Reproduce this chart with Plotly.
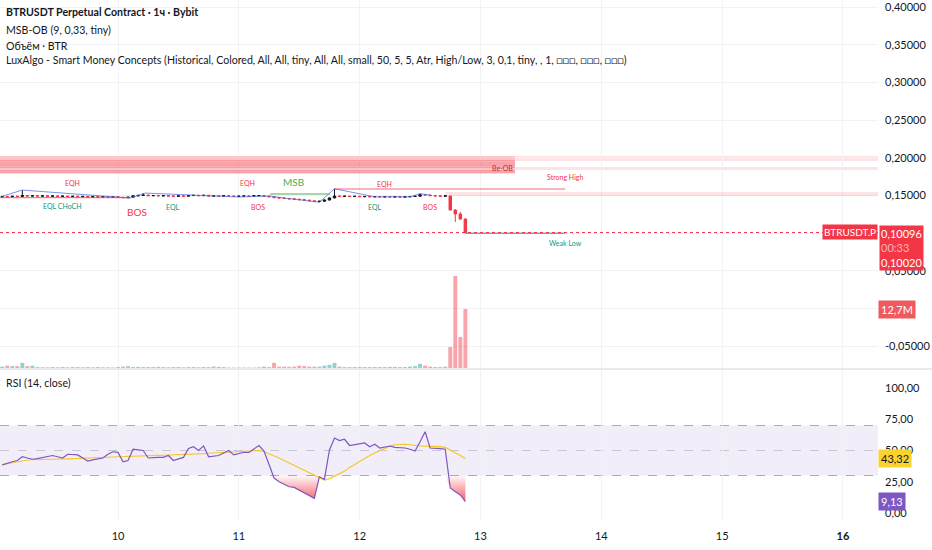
import plotly.graph_objects as go
import pandas as pd

# ---------------- data ----------------
START = pd.Timestamp("2025-06-09 00:00")
hours = list(range(1, 94))

opens = [.1482,.1487,.1483,.1490,.1487,.1500,.1493,.1497,.1492,.1495,
         .1490,.1494,.1488,.1492,.1486,.1490,.1484,.1488,.1481,.1486,
         .1480,.1485,.1479,.1484,.1476,.1472,.1478,.1495,.1501,.1505,
         .1497,.1500,.1495,.1498,.1493,.1489,.1494,.1491,.1499,.1502,
         .1497,.1503,.1492,.1495,.1491,.1496,.1493,.1488,.1491,.1494,
         .1490,.1496,.1499,.1491,.1483,.1472,.1466,.1460,.1455,.1450,
         .1444,.1438,.1430,.1420,.1424,.1440,.1468,.1492,.1488,.1491,
         .1486,.1489,.1484,.1487,.1482,.1486,.1481,.1485,.1480,.1484,
         .1479,.1483,.1487,.1491,.1510,.1506,.1498,.1494,.1491,.1493,
         .1308,.1255,.1188]
highs = [.1490,.1494,.1492,.1498,.1572,.1506,.1500,.1503,.1499,.1501,
         .1497,.1499,.1495,.1498,.1493,.1496,.1491,.1494,.1489,.1492,
         .1488,.1491,.1487,.1489,.1483,.1481,.1500,.1510,.1532,.1510,
         .1504,.1506,.1502,.1504,.1500,.1497,.1500,.1503,.1506,.1507,
         .1508,.1506,.1499,.1501,.1499,.1502,.1499,.1495,.1498,.1500,
         .1499,.1504,.1503,.1496,.1488,.1478,.1472,.1466,.1461,.1456,
         .1450,.1444,.1436,.1428,.1444,.1472,.1590,.1500,.1496,.1497,
         .1494,.1495,.1492,.1493,.1490,.1492,.1489,.1491,.1488,.1490,
         .1487,.1490,.1495,.1525,.1516,.1510,.1503,.1500,.1499,.1497,
         .1315,.1281,.1195]
lows = [.1476,.1480,.1478,.1485,.1484,.1490,.1486,.1489,.1485,.1487,
        .1483,.1485,.1481,.1484,.1479,.1482,.1477,.1479,.1475,.1478,
        .1474,.1477,.1472,.1474,.1468,.1463,.1474,.1489,.1495,.1494,
        .1490,.1492,.1488,.1490,.1486,.1483,.1487,.1487,.1493,.1494,
        .1492,.1490,.1486,.1488,.1486,.1489,.1485,.1478,.1485,.1487,
        .1485,.1490,.1488,.1480,.1468,.1462,.1456,.1450,.1446,.1440,
        .1434,.1426,.1414,.1410,.1420,.1436,.1462,.1484,.1481,.1483,
        .1479,.1481,.1477,.1479,.1476,.1478,.1475,.1477,.1474,.1476,
        .1473,.1476,.1480,.1488,.1500,.1494,.1490,.1487,.1486,.1300,
        .1149,.1180,.1000]
closes = [.1487,.1483,.1490,.1487,.1500,.1493,.1497,.1492,.1495,.1490,
          .1494,.1488,.1492,.1486,.1490,.1484,.1488,.1481,.1486,.1480,
          .1485,.1479,.1484,.1476,.1472,.1478,.1495,.1501,.1505,.1497,
          .1500,.1495,.1498,.1493,.1489,.1494,.1491,.1499,.1502,.1497,
          .1503,.1492,.1495,.1491,.1496,.1493,.1488,.1491,.1494,.1490,
          .1496,.1499,.1491,.1483,.1472,.1466,.1460,.1455,.1450,.1444,
          .1438,.1430,.1420,.1424,.1440,.1468,.1492,.1488,.1491,.1486,
          .1489,.1484,.1487,.1482,.1486,.1481,.1485,.1480,.1484,.1479,
          .1483,.1487,.1491,.1510,.1506,.1498,.1494,.1491,.1495,.1308,
          .1255,.1188,.10096]

volumes_m = [0.3,0.5,0.4,0.4,1.1,0.4,0.5,0.2,0.15,0.15,
             0.2,0.15,0.2,0.15,0.2,0.2,0.15,0.2,0.15,0.2,
             0.15,0.15,0.1,0.2,0.3,0.4,0.2,0.25,0.2,0.2,
             0.2,0.25,0.2,0.15,0.2,0.2,0.15,0.2,0.2,0.15,
             0.2,0.2,0.3,0.25,0.2,0.1,0.1,0.1,0.1,0.1,
             0.1,0.15,0.3,0.2,1.1,0.3,0.3,0.25,0.3,0.5,
             0.4,0.3,0.3,0.3,0.5,0.7,1.1,0.3,0.2,0.2,
             0.2,0.2,0.2,0.2,0.2,0.2,0.2,0.25,0.25,0.2,
             0.2,0.3,0.4,0.9,0.5,0.3,0.2,0.2,0.3,4.5,
             19.8,6.7,12.7]

rsi = [38.5,40,41,42,45,44,43,43.5,44.5,45.5,
       46,45,44,47,46.5,46.5,44,41.6,42.5,43,
       44,47,49,48.5,41,42,51,50.5,50,44,
       44.5,44.5,44.5,46,42,43,44.5,51.6,53,50,
       53.7,45,45.5,46,48,50,46.5,47.5,48.6,48.5,
       51,54,49.5,39.5,28,25,23,21,20.5,18.4,
       16.5,14,11.7,29,27,50.4,60,58,59,54,
       54.5,55.5,56,53,55,52,53,53.6,52.5,52.5,
       52,51,49.6,57,65,52,52,51.5,51,20,
       17,14.4,9.13]

rsi_ma = [38.6,39.4,40.2,41,41.8,42.4,42.6,42.8,42.9,43,
          43,43.1,43.2,43.3,43.4,43.6,43.8,43.9,44,44.2,
          44.4,44.6,44.8,45,45.2,45.4,45.6,45.7,45.8,45.9,
          46,46.1,46.2,46.3,46.4,46.5,46.6,46.8,47,47.2,
          47.5,47.8,48.1,48.4,48.6,48.8,49,49.2,49.4,49.6,
          49.8,49.9,49,47.5,46,44,42,40,38,36,
          34,32,29.8,28,26.4,27.5,29.5,31.5,33.5,36.5,
          39,41.5,44,46,48,50,52,53.5,54.6,55,
          55,54.6,54,53.6,53.5,53.5,53.3,53.1,52.5,50.5,
          48.5,46,43.32]

# zigzag (MSB-OB)
zz_hours = [1, 5, 26.4, 29.4, 48, 54, 64, 67, 75, 82, 84, 86]
zz_prices = [.1490, .1572, .1466, .1532, .1480, .1493, .1410, .1590, .1482, .1482, .1525, .1505]

# structure levels
level_names = ["eql", "msb", "strong_high", "weak_low"]
level_h0 = [0.56, 54.2, 66.9, 93]
level_h1 = [26.4, 66.1, 112.8, 112.8]
level_price = [.1471, .1520, .1586, .1000]
level_color = ["rgba(242,54,69,0.8)", "#4caf50", "rgba(242,54,69,0.75)", "#089981"]

# labels
lab_text = ["EQH", "EQL CHoCH", "BOS", "EQL", "EQH", "BOS", "MSB", "EQH", "EQL", "BOS",
            "Strong High", "Weak Low", "Be-OB"]
lab_h = [14.9, 12.9, 27.8, 34.9, 49.8, 51.8, 58.8, 77.0, 75.0, 86.0, 112.8, 112.8, 100.4]
lab_p = [.1666, .1361, .1281, .1347, .1666, .1347, .1679, .1653, .1347, .1347, .1745, .0870, .1865]
lab_color = ["#f23645", "#089981", "#f23645", "#089981", "#f23645", "#f23645", "#4caf50",
             "#f23645", "#089981", "#f23645", "#f23645", "#089981", "#c2263a"]
lab_size = [7, 7, 10, 7, 7, 7, 10, 7, 7, 7, 7, 7, 7]

price_ticks = [-0.05, 0.0, 0.05, 0.10, 0.15, 0.20, 0.25, 0.30, 0.35, 0.40]
price_hidden = [0.0, 0.10]   # covered by the value boxes in the original
rsi_ticks = [0, 25, 50, 75, 100]
day_ticks = [10, 11, 12, 13, 14, 15, 16]

last_price = 0.10096
rsi_last = 9.13
ma_last = 43.32
vol_last = 12.7

# ---------------- helpers ----------------
def t(h):
    return START + pd.Timedelta(hours=h)

times = [t(h) for h in hours]
x_range = [t(0.5616), t(174.96)]

FONT = "Lato, 'Noto Sans', sans-serif"
TXT = "#131722"
RED = "#f23645"

fig = go.Figure()

vol_colors = ["rgba(38,166,154,0.5)" if c >= o else "rgba(242,54,69,0.45)" for o, c in zip(opens, closes)]
fig.add_trace(go.Bar(x=times, y=volumes_m, marker=dict(color=vol_colors, line=dict(width=0)),
                     width=3600000 * 0.78, xaxis="x", yaxis="y3", hoverinfo="skip", showlegend=False))

fig.add_trace(go.Candlestick(x=times, open=opens, high=highs, low=lows, close=closes,
                             increasing=dict(line=dict(color="#131722", width=1), fillcolor="#131722"),
                             decreasing=dict(line=dict(color=RED, width=1), fillcolor=RED),
                             whiskerwidth=0, xaxis="x", yaxis="y", showlegend=False))

fig.add_trace(go.Scatter(x=[t(h) for h in zz_hours], y=zz_prices, mode="lines",
                         line=dict(color="rgba(80,110,225,0.75)", width=1),
                         xaxis="x", yaxis="y", showlegend=False, hoverinfo="skip"))

for h0, h1, p, col in zip(level_h0, level_h1, level_price, level_color):
    fig.add_trace(go.Scatter(x=[t(h0), t(h1)], y=[p, p], mode="lines",
                             line=dict(color=col, width=1), xaxis="x", yaxis="y",
                             showlegend=False, hoverinfo="skip"))

fig.add_trace(go.Scatter(x=times, y=[30] * len(times), mode="lines", line=dict(width=0),
                         xaxis="x2", yaxis="y2", showlegend=False, hoverinfo="skip"))
fig.add_trace(go.Scatter(x=times, y=[min(r, 30) for r in rsi], mode="lines", line=dict(width=0),
                         fill="tonexty",
                         fillgradient=dict(type="vertical",
                                           colorscale=[[0, "rgba(242,54,69,0.85)"], [1, "rgba(242,54,69,0.03)"]],
                                           start=8, stop=30),
                         xaxis="x2", yaxis="y2", showlegend=False, hoverinfo="skip"))
fig.add_trace(go.Scatter(x=times, y=rsi_ma, mode="lines", line=dict(color="#f5c82c", width=1.2),
                         xaxis="x2", yaxis="y2", showlegend=False, hoverinfo="skip"))
fig.add_trace(go.Scatter(x=times, y=rsi, mode="lines", line=dict(color="#7e57c2", width=1.2),
                         xaxis="x2", yaxis="y2", showlegend=False, hoverinfo="skip"))

# ---------------- shapes ----------------
shapes = []
def band(x0, x1, y0, y1, color, xref="x"):
    shapes.append(dict(type="rect", xref=xref, yref="y", x0=x0, x1=x1, y0=y0, y1=y1,
                       fillcolor=color, line=dict(width=0), layer="between"))

band(0, 1, .1958, .2024, "rgba(242,54,69,0.14)", xref="paper")
band(0, 1, .1838, .1878, "rgba(242,54,69,0.14)", xref="paper")
band(t(89), x_range[1], .1493, .1546, "rgba(242,54,69,0.14)")
band(x_range[0], t(102.85), .1785, .2024, "rgba(242,54,69,0.18)")
band(x_range[0], t(102.85), .1892, .1945, "rgba(242,54,69,0.35)")
band(x_range[0], t(102.85), .1799, .1838, "rgba(242,54,69,0.35)")
for lv in [.1958, .1878]:
    shapes.append(dict(type="line", xref="x", yref="y", x0=x_range[0], x1=t(102.85), y0=lv, y1=lv,
                       line=dict(color="rgba(242,54,69,0.55)", width=1), layer="between"))

shapes.append(dict(type="line", xref="paper", yref="y", x0=0, x1=1, y0=last_price, y1=last_price,
                   line=dict(color=RED, width=1, dash="dot")))

shapes.append(dict(type="rect", xref="paper", yref="y2", x0=0, x1=1, y0=30, y1=70,
                   fillcolor="rgba(126,87,194,0.1)", line=dict(width=0), layer="between"))
for lv in [70, 50, 30]:
    shapes.append(dict(type="line", xref="paper", yref="y2", x0=0, x1=1, y0=lv, y1=lv,
                       line=dict(color="rgba(120,123,134,0.6)" if lv != 50 else "rgba(120,123,134,0.35)",
                                 width=1, dash="dash"), layer="between"))

shapes.append(dict(type="line", xref="paper", yref="paper", x0=0, x1=932 / 878,
                   y0=1 - 369 / 520, y1=1 - 369 / 520, line=dict(color="#d1d4dc", width=1)))

# ---------------- annotations ----------------
ann = []
for txt, h, p, col, sz in zip(lab_text, lab_h, lab_p, lab_color, lab_size):
    ann.append(dict(x=t(h), y=p, xref="x", yref="y", text=txt, showarrow=False,
                    font=dict(family=FONT, size=sz, color=col)))

legend_lines = [
    ("<b>BTRUSDT Perpetual Contract · 1ч · Bybit</b>", 12),
    ("MSB-OB (9, 0,33, tiny)", 30),
    ("Объём · BTR", 46),
    ("LuxAlgo - Smart Money Concepts (Historical, Colored, All, All, tiny, All, All, small, 50, 5, 5, Atr, "
     "High/Low, 3, 0,1, tiny, , 1, □□□, □□□, □□□)", 60),
    ("RSI (14, close)", 383),
]
for txt, ypx in legend_lines:
    ann.append(dict(x=0, y=1 - ypx / 520, xref="paper", yref="paper", xanchor="left", yanchor="middle",
                    xshift=4, text=txt, showarrow=False, font=dict(family=FONT, size=10.6, color=TXT)))

ann.append(dict(x=1, y=last_price, xref="paper", yref="y", xanchor="right", yanchor="middle",
                text="BTRUSDT.P", showarrow=False, bgcolor=RED, borderpad=1,
                font=dict(family=FONT, size=10, color="white")))
ann.append(dict(x=1, y=last_price, xref="paper", yref="y", xanchor="left", yanchor="top", xshift=1, yshift=7,
                text="0,10096<br><span style='color:#f9b3b9'>00:33</span><br>0,10020",
                showarrow=False, bgcolor=RED, borderpad=1, align="left",
                font=dict(family=FONT, size=11, color="white")))
ann.append(dict(x=1, y=vol_last, xref="paper", yref="y3", xanchor="left", yanchor="middle",
                text="12,7M", showarrow=False, bgcolor="#f05a5f", borderpad=2,
                font=dict(family=FONT, size=11, color="white")))
ann.append(dict(x=1, y=ma_last, xref="paper", yref="y2", xanchor="left", yanchor="middle",
                text="43,32", showarrow=False, bgcolor="#fbd32e", borderpad=2,
                font=dict(family=FONT, size=11, color=TXT)))
ann.append(dict(x=1, y=rsi_last, xref="paper", yref="y2", xanchor="left", yanchor="middle",
                text="9,13", showarrow=False, bgcolor="#7e57c2", borderpad=2,
                font=dict(family=FONT, size=11, color="white")))

# ---------------- layout ----------------
day_vals = [START + pd.Timedelta(days=d - 9) for d in day_ticks]
day_text = [str(d) if d != 16 else "<b>16</b>" for d in day_ticks]
grid = "#f0f2f6"
price_text = ["" if v in price_hidden else f"{v:.5f}".replace(".", ",") for v in price_ticks]

fig.update_layout(
    width=932, height=550,
    margin=dict(l=0, r=54, t=0, b=30),
    paper_bgcolor="white", plot_bgcolor="white",
    showlegend=False,
    font=dict(family=FONT, size=11, color=TXT),
    xaxis=dict(type="date", range=x_range, domain=[0, 1], anchor="y", showticklabels=False,
               tickvals=day_vals, showgrid=True, gridcolor=grid, zeroline=False,
               rangeslider=dict(visible=False), fixedrange=True),
    xaxis2=dict(type="date", range=x_range, domain=[0, 1], anchor="y2", tickvals=day_vals,
                ticktext=day_text, showgrid=True, gridcolor=grid, zeroline=False,
                tickfont=dict(family=FONT, size=11, color=TXT), ticks="", showline=False,
                ticklabelstandoff=8),
    yaxis=dict(domain=[1 - 368 / 520, 1], range=[-0.07879, 0.40928], side="right",
               tickvals=price_ticks, ticktext=price_text,
               showgrid=True, gridcolor=grid, zeroline=False, ticks="", ticklabelstandoff=6,
               ticklabeloverflow="allow",
               tickfont=dict(family=FONT, size=11, color=TXT)),
    yaxis2=dict(domain=[0, 1 - 370 / 520], range=[-5.6, 114.4], side="right",
                tickvals=rsi_ticks, ticktext=[f"{v:.2f}".replace(".", ",") for v in rsi_ticks],
                showgrid=False, zeroline=False, ticks="", ticklabelstandoff=6,
                ticklabeloverflow="allow",
                tickfont=dict(family=FONT, size=11, color=TXT)),
    yaxis3=dict(overlaying="y", range=[0, vol_last * 368 / 59], visible=False, side="right"),
    shapes=shapes,
    annotations=ann,
)

fig.write_html("out.html", config={"displayModeBar": False},
               post_script="document.body.style.margin='0';document.body.style.padding='0';")
